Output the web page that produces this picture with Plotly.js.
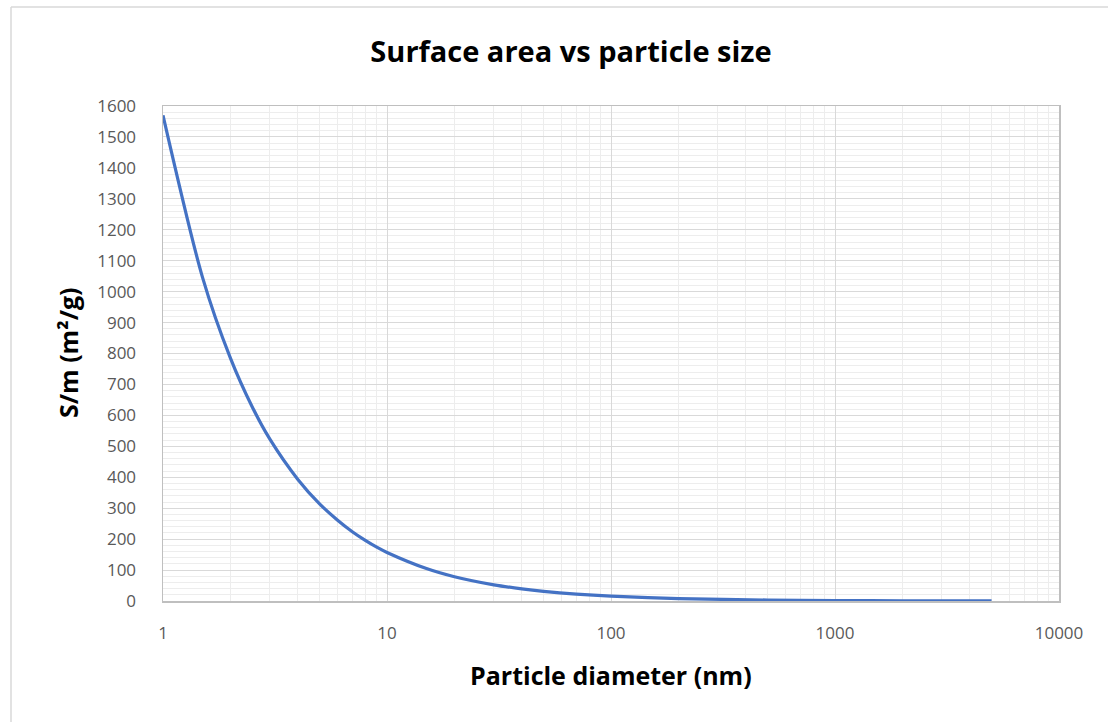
<!DOCTYPE html>
<html>
<head>
<meta charset="utf-8">
<script src="https://cdn.plot.ly/plotly-3.0.1.min.js"></script>
<style>html,body{margin:0;padding:0;background:#fff;}#chart{width:1108px;height:722px;}</style>
</head>
<body>
<div id="chart"></div>
<script>
// Particle diameter (nm)
const diameter = [1, 1.5, 2, 2.5, 3, 4, 5, 6, 7, 8, 9, 10, 15, 20, 30, 40, 50, 70, 100, 200, 500, 1000, 2000, 5000];
// Specific surface area S/m (m²/g)
const surfaceArea = [1570, 1047, 785, 628, 523, 393, 314, 262, 224, 196, 174, 157, 105, 78.5, 52.3, 39.3, 31.4, 22.4, 15.7, 7.85, 3.14, 1.57, 0.785, 0.314];
const xTickVals = [1, 10, 100, 1000, 10000];
const xTickText = ["1", "10", "100", "1000", "10000"];

const W = 1108, H = 722;
const L = 163, R = 1059, T = 106, B = 601;
const px = v => (v - L) / (R - L);
const py = v => (B - v) / (B - T);

const fontFam = "Open Sans, Liberation Sans, sans-serif";

const trace = {
  x: diameter, y: surfaceArea, type: 'scatter', mode: 'lines',
  line: {color: '#4472C4', width: 3.2, shape: 'spline', smoothing: 0.8},
  hoverinfo: 'x+y'
};

const layout = {
  width: W, height: H,
  margin: {l: L, r: W - R, t: T, b: H - B},
  paper_bgcolor: '#ffffff', plot_bgcolor: '#ffffff',
  showlegend: false,
  font: {family: fontFam, color: '#595959', size: 16},
  title: {
    text: '<b>Surface area vs particle size</b>',
    font: {family: fontFam, size: 29, color: '#000000'},
    x: 571 / W, xanchor: 'center', xref: 'container',
    y: 1 - 52 / H, yanchor: 'middle', yref: 'container'
  },
  xaxis: {
    type: 'log', range: [0, 4], autorange: false,
    tickvals: xTickVals, ticktext: xTickText,
    showgrid: true, gridcolor: '#D9D9D9', gridwidth: 1,
    minor: {dtick: 'D1', showgrid: true, gridcolor: '#EDEDED', gridwidth: 1, ticks: ''},
    showline: true, linecolor: '#BFBFBF', linewidth: 1.5, mirror: true,
    ticks: '', ticklabelstandoff: 16,
    tickfont: {family: fontFam, size: 17, color: '#595959'},
    zeroline: false
  },
  yaxis: {
    range: [0, 1600], autorange: false, dtick: 100, tick0: 0,
    showgrid: true, gridcolor: '#D9D9D9', gridwidth: 1,
    minor: {dtick: 20, showgrid: true, gridcolor: '#EDEDED', gridwidth: 1, ticks: ''},
    showline: true, linecolor: '#BFBFBF', linewidth: 1.5, mirror: true,
    ticks: '', ticklabelstandoff: 22,
    tickfont: {family: fontFam, size: 17, color: '#595959'},
    zeroline: false
  },
  annotations: [
    {text: '<b>Particle diameter (nm)</b>', xref: 'paper', yref: 'paper',
     x: px(611), y: py(675), xanchor: 'center', yanchor: 'middle', showarrow: false,
     font: {family: fontFam, size: 25, color: '#000000'}},
    {text: '<b>S/m (m²/g)</b>', xref: 'paper', yref: 'paper', textangle: -90,
     x: px(68), y: py(353), xanchor: 'center', yanchor: 'middle', showarrow: false,
     font: {family: fontFam, size: 25, color: '#000000'}}
  ],
  shapes: [
    {type: 'line', xref: 'paper', yref: 'paper', x0: px(11), x1: px(11), y0: py(7), y1: py(730),
     line: {color: '#D9D9D9', width: 1.5}},
    {type: 'line', xref: 'paper', yref: 'paper', x0: px(11), x1: px(1120), y0: py(7), y1: py(7),
     line: {color: '#D9D9D9', width: 1.5}}
  ]
};

Plotly.newPlot('chart', [trace], layout, {displayModeBar: false, staticPlot: true});
</script>
</body>
</html>
